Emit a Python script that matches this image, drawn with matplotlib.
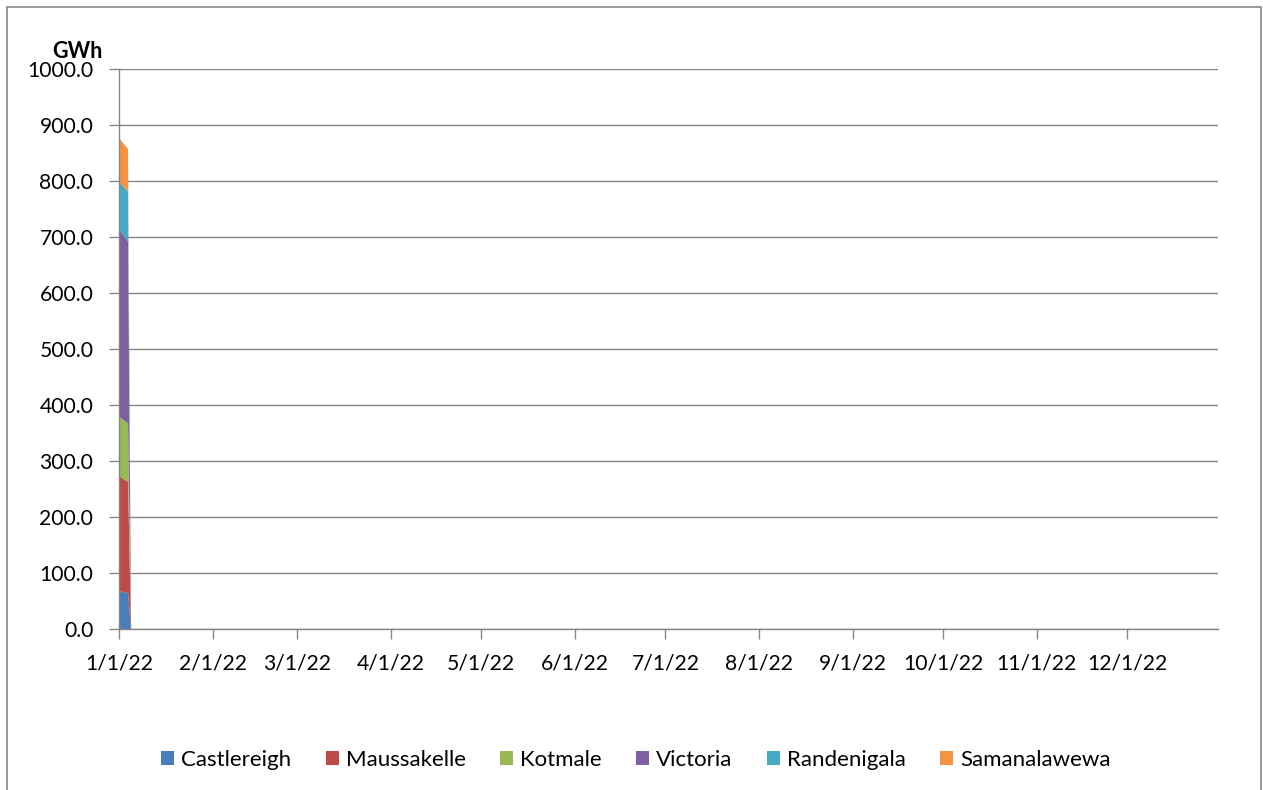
import matplotlib
matplotlib.use("Agg")
import matplotlib.pyplot as plt
import matplotlib.dates as mdates
from matplotlib.patches import Rectangle
import numpy as np
from datetime import date

# daily generation (GWh), stacked; data stops after the first few days
dates = [date(2022, 1, 1), date(2022, 1, 4), date(2022, 1, 5)]
series_names = ["Castlereigh", "Maussakelle", "Kotmale", "Victoria", "Randenigala", "Samanalawewa"]
castlereigh = [68, 64, 0]
maussakelle = [205, 199, 0]
kotmale = [106, 104, 0]
victoria = [335, 325, 0]
randenigala = [85, 89, 0]
samanalawewa = [78, 76, 0]
colors = ["#4A7EBB", "#BE4B48", "#98B954", "#7D60A0", "#46AAC5", "#F59343"]

tick_dates = [date(2022, m, 1) for m in range(1, 13)]
y_ticks = np.arange(0, 1001, 100)

plt.rcParams["font.family"] = ["Lato", "DejaVu Sans"]

fig = plt.figure(figsize=(12.63, 7.9), dpi=100)
W, H = 1263, 790
ax = fig.add_axes([119 / W, 1 - 629 / H, (1218 - 119) / W, (629 - 69) / H])

# chart area border
fig.patches.append(Rectangle((7 / W, -0.01), (1261 - 7) / W, 1 - 7 / H + 0.01,
                             transform=fig.transFigure, fill=False,
                             edgecolor="#868686", linewidth=1.2))

x = mdates.date2num(dates)
ax.stackplot(x, castlereigh, maussakelle, kotmale, victoria, randenigala, samanalawewa,
             colors=colors, labels=series_names, linewidth=0)

ax.set_xlim(mdates.date2num(date(2022, 1, 1)), mdates.date2num(date(2022, 12, 31)))
ax.set_ylim(0, 1000)
ax.set_yticks(y_ticks)
ax.set_yticklabels([f"{v:.1f}" for v in y_ticks])
ax.set_xticks(mdates.date2num(tick_dates))
ax.set_xticklabels([f"{d.month}/{d.day}/22" for d in tick_dates])

ax.grid(axis="y", color="#868686", linewidth=1.0)
ax.set_axisbelow(True)
for side in ("top", "right"):
    ax.spines[side].set_visible(False)
for side in ("left", "bottom"):
    ax.spines[side].set_color("#868686")
    ax.spines[side].set_linewidth(1.0)
ax.tick_params(axis="both", colors="#868686", labelcolor="black", labelsize=15.2,
               length=7, width=1.0, direction="out")
ax.tick_params(axis="x", pad=10.5)
ax.tick_params(axis="y", pad=11.5)

fig.text(77 / W, 1 - 51 / H, "GWh", fontsize=15.5, fontweight="bold", ha="center", va="center")

handles, labels = ax.get_legend_handles_labels()
fig.legend(handles, labels, loc="center", bbox_to_anchor=(636 / W, 1 - 760 / H), ncol=6,
           frameon=False, fontsize=16, handlelength=0.58, handleheight=0.58,
           handletextpad=0.32, columnspacing=1.55)

fig.savefig("out.png", dpi=100)
